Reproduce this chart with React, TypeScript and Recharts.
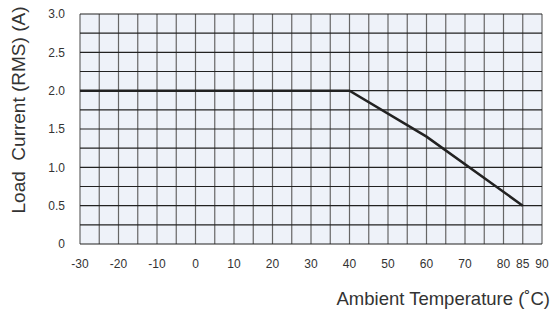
import React from "react";
import { LineChart, Line, XAxis, YAxis, ReferenceLine, CartesianGrid } from "recharts";

const temps = [-30, 40, 60, 85];
const currents = [2.0, 2.0, 1.4, 0.5];
const xTicks = [-30, -20, -10, 0, 10, 20, 30, 40, 50, 60, 70, 80, 85, 90];
const yTicks = [0, 0.5, 1.0, 1.5, 2.0, 2.5, 3.0];
const gridX = [-30, -25, -20, -15, -10, -5, 0, 5, 10, 15, 20, 25, 30, 35, 40, 45, 50, 55, 60, 65, 70, 75, 80, 85, 90];
const gridY = [0, 0.25, 0.5, 0.75, 1.0, 1.25, 1.5, 1.75, 2.0, 2.25, 2.5, 2.75, 3.0];
const xTitle = "Ambient Temperature (˚C)";
const yTitle = "Load  Current (RMS) (A)";

const data = temps.map((t, i) => ({ t, a: currents[i] }));

const fmtY = (v: number) => (v === 0 ? "0" : v.toFixed(1));
const font = "Liberation Sans, Arial, sans-serif";

export default function App() {
  return (
    <div style={{ position: "absolute", left: 0, top: 0, width: 553, height: 311, background: "#fff" }}>
      <LineChart width={553} height={311} data={data} margin={{ top: 14, right: 11, bottom: 47, left: 20 }}>
        <CartesianGrid fill="#eef2f9" horizontal={false} vertical={false} />
        {gridX.map((v) => (
          <ReferenceLine key={"gx" + v} x={v} stroke="#666" strokeWidth={1.2} ifOverflow="visible" />
        ))}
        {gridY.map((v) => (
          <ReferenceLine key={"gy" + v} y={v} stroke="#222" strokeWidth={1.2} ifOverflow="visible" />
        ))}
        <XAxis
          type="number"
          dataKey="t"
          domain={[-30, 90]}
          ticks={xTicks}
          interval={0}
          axisLine={false}
          tickLine={false}
          tickMargin={9}
          tick={{ fill: "#333", fontSize: 12, fontFamily: font }}
          height={20}
          label={{
            content: () => (
              <text x={550} y={305} textAnchor="end" fill="#333" fontSize={18.5} fontFamily={font}>
                {xTitle}
              </text>
            ),
          }}
        />
        <YAxis
          type="number"
          domain={[0, 3]}
          ticks={yTicks}
          interval={0}
          tickFormatter={fmtY}
          axisLine={false}
          tickLine={false}
          tickMargin={9}
          width={60}
          tick={{ fill: "#333", fontSize: 12, fontFamily: font }}
          label={{
            content: () => (
              <text
                x={0}
                y={0}
                transform="translate(25,110) rotate(-90)"
                textAnchor="middle"
                fill="#333"
                fontSize={19}
                fontFamily={font}
                style={{ whiteSpace: "pre" }}
              >
                {yTitle}
              </text>
            ),
          }}
        />
        <Line
          type="linear"
          dataKey="a"
          stroke="#222"
          strokeWidth={2.5}
          dot={false}
          isAnimationActive={false}
        />
      </LineChart>
    </div>
  );
}
